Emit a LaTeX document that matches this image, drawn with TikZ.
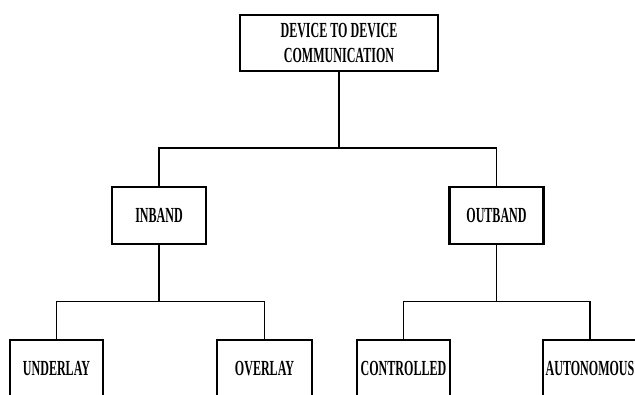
\documentclass[tikz,border=0pt]{standalone}
\usepackage{fontspec}
\setmainfont{Liberation Serif}[FakeStretch=0.56]

\begin{document}
\begin{tikzpicture}[
    x=1pt, y=-1pt,
    box/.style={
        rectangle,
        draw=black,
        line width=2.2pt,
        fill=white,
        inner sep=0pt,
        minimum height=57pt,
        font=\fontsize{21.5}{25}\selectfont\bfseries
    },
    link/.style={line width=1.8pt}
]
\useasboundingbox (0,0) rectangle (635,394);
\clip (0,0) rectangle (635,394);

\node[box, minimum width=198pt, minimum height=56pt, align=center] (d2d) at (339,43) {DEVICE TO DEVICE\\COMMUNICATION};

\node[box, minimum width=94pt] (inband) at (159,215.5) {INBAND};
\node[box, minimum width=94pt] (outband) at (496.5,215.5) {OUTBAND};

\node[box, minimum width=93pt] (underlay) at (56.5,368.5) {UNDERLAY};
\node[box, minimum width=95pt] (overlay) at (264.5,368.5) {OVERLAY};
\node[box, minimum width=93pt] (controlled) at (403.5,368.5) {CONTROLLED};
\node[box, minimum width=94pt] (autonomous) at (590,368.5) {AUTONOMOUS};

% first level
\coordinate (top) at (339,148);
\draw[link] (d2d.south) -- (top);
\draw[link] (top) -| (inband.north);
\draw[link] (top) -| (outband.north);

% inband
\coordinate (inb) at (159,301.5);
\draw[link] (inband.south) -- (inb);
\draw[link] (inb) -| (underlay.north);
\draw[link] (inb) -| (overlay.north);

% outband
\coordinate (outb) at (496.5,301.5);
\draw[link] (outband.south) -- (outb);
\draw[link] (outb) -| (controlled.north);
\draw[link] (outb) -| (autonomous.north);

\end{tikzpicture}
\end{document}
